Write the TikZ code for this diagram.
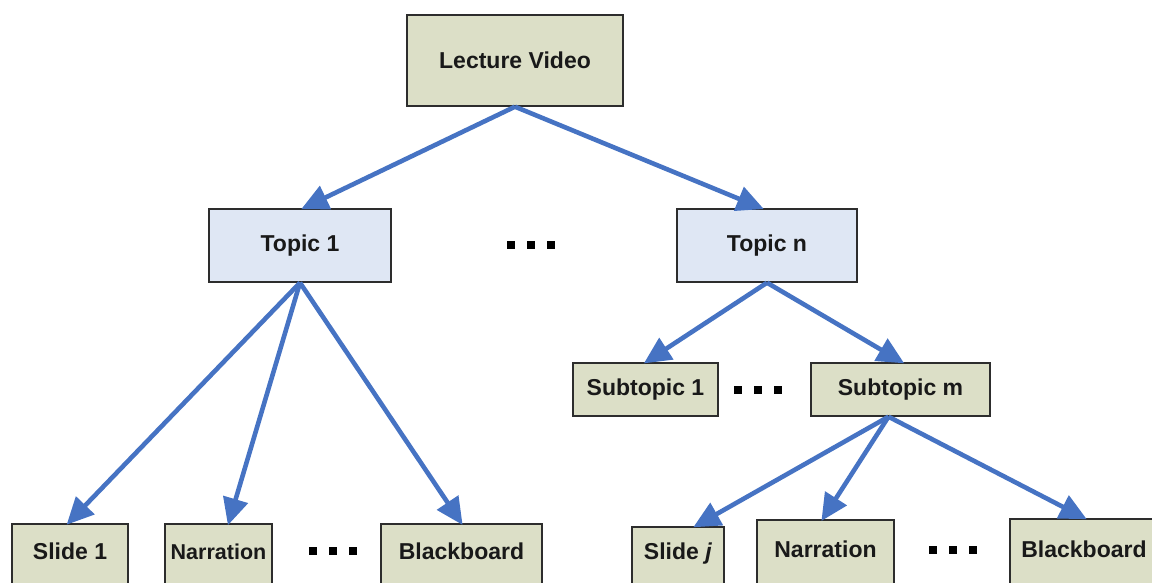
\documentclass[tikz,border=0pt]{standalone}
\usepackage{fontspec}
\setmainfont{Liberation Sans}
\usetikzlibrary{arrows.meta}
\definecolor{olivebox}{RGB}{220,223,199}
\definecolor{bluebox}{RGB}{223,231,244}
\definecolor{arrowblue}{RGB}{70,115,195}
\definecolor{boxline}{RGB}{45,45,45}
\tikzset{
  box/.style={draw=boxline, line width=1.4pt, rectangle, inner sep=0pt,
    font=\fontsize{23}{27}\selectfont\bfseries, text=black!90},
  olive/.style={box, fill=olivebox},
  blue/.style={box, fill=bluebox},
  leaf/.style={olive, anchor=base, text height=#1, text depth=70pt},
  conn/.style={draw=arrowblue, line width=4.6pt,
    -{Triangle[length=27pt,width=25pt]}, shorten >=-2pt},
  dotrow/.style={inner sep=0pt, fill=none}
}
\newcommand{\sqdots}{\rule{8pt}{8pt}\hspace{12pt}\rule{8pt}{8pt}\hspace{12pt}\rule{8pt}{8pt}}
\begin{document}
\begin{tikzpicture}[x=1pt,y=-1pt]
\useasboundingbox (0,0) rectangle (1152,583);
\clip (0,0) rectangle (1152,583);
% top
\node[olive, minimum width=216pt, minimum height=91pt] (lv) at (515,60.5) {Lecture Video};
% topics
\node[blue, minimum width=182pt, minimum height=73pt] (t1) at (300,245.5) {Topic 1};
\node[blue, minimum width=180pt, minimum height=73pt] (tn) at (767,245.5) {Topic n};
\node[dotrow] (d1) at (531,245) {\sqdots};
% subtopics
\node[olive, minimum width=145pt, minimum height=53pt] (s1) at (645.5,389.5) {Subtopic 1};
\node[olive, minimum width=179pt, minimum height=53pt] (sm) at (900.5,389.5) {Subtopic m};
\node[dotrow] (d2) at (758,390) {\sqdots};
% leaves left
\node[leaf=35pt, minimum width=116pt] (l1) at (70,559) {Slide 1};
\node[leaf=35pt, minimum width=107pt, font=\fontsize{21.5}{26}\selectfont\bfseries] (l2) at (218.5,559) {Narration};
\node[dotrow] (d3) at (333,551) {\sqdots};
\node[leaf=35pt, minimum width=161pt] (l3) at (461.5,559) {Blackboard};
% leaves right
\node[leaf=32pt, minimum width=92pt] (r1) at (678,559) {Slide \textit{j}};
\node[leaf=37pt, minimum width=137pt] (r2) at (825.5,557) {Narration};
\node[dotrow] (d4) at (953,550) {\sqdots};
\node[leaf=38pt, minimum width=148pt] (r3) at (1084,557) {Blackboard};
% connectors
\draw[conn] (lv.south) -- ([xshift=3pt]t1.north);
\draw[conn] (lv.south) -- ([xshift=-5pt]tn.north);
\draw[conn] (t1.south) -- ([xshift=-2pt]l1.north);
\draw[conn] (t1.south) -- ([xshift=10pt]l2.north);
\draw[conn] (t1.south) -- (l3.north);
\draw[conn] (tn.south) -- (s1.north);
\draw[conn] (tn.south) -- ([xshift=2pt]sm.north);
\draw[conn] ([xshift=-12pt]sm.south) -- ([xshift=17pt]r1.north);
\draw[conn] ([xshift=-12pt]sm.south) -- ([xshift=-3pt]r2.north);
\draw[conn] ([xshift=-12pt]sm.south) -- ([xshift=1pt]r3.north);
\end{tikzpicture}
\end{document}
